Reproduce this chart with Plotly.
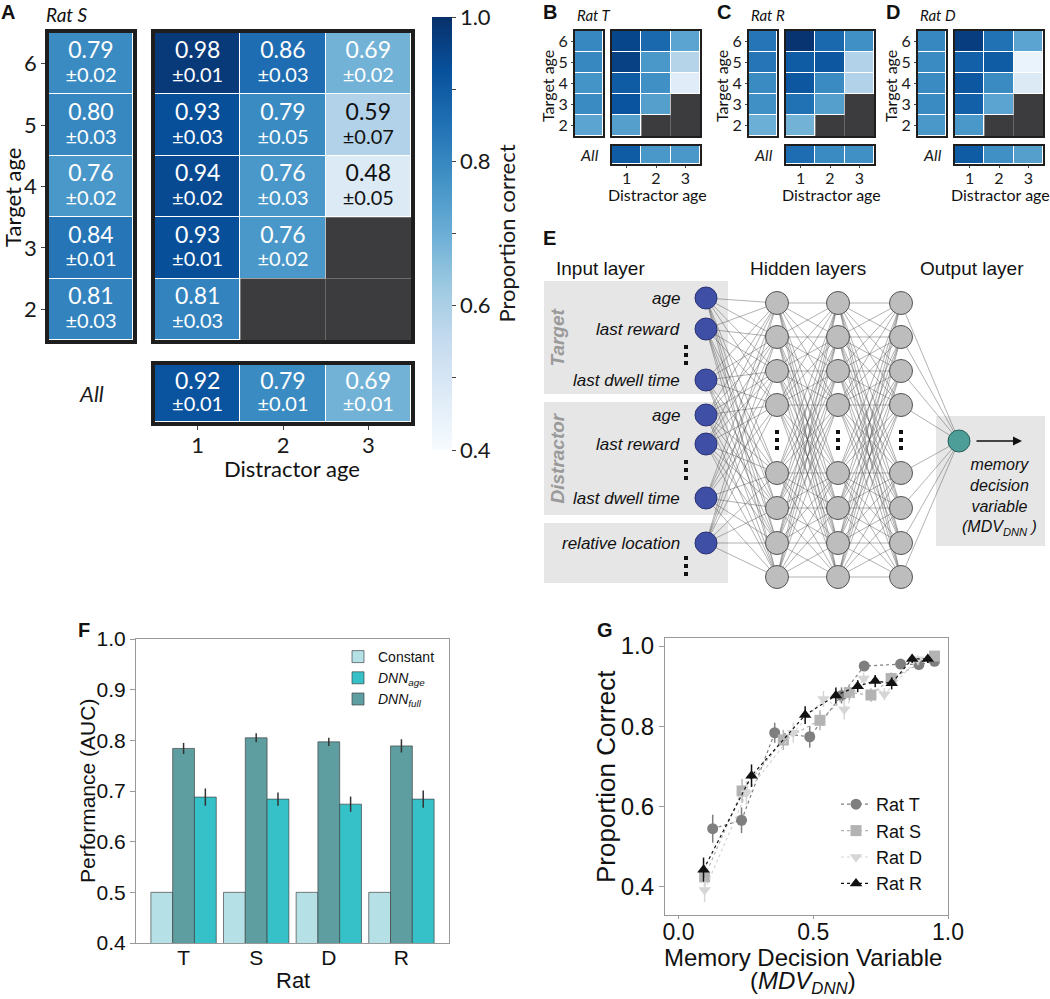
import numpy as np
import plotly.graph_objects as go

W, H = 1050, 999

# ==============================================================================
# -- Data ----------------------------------------------------------------------
# ==============================================================================
target_ages = [6, 5, 4, 3, 2]
distractor_ages = [1, 2, 3]

# Rat S (panel A), with sem
ratS_target = [0.79, 0.80, 0.76, 0.84, 0.81]
ratS_target_sem = [0.02, 0.03, 0.02, 0.01, 0.03]
ratS_grid = [[0.98, 0.86, 0.69],
             [0.93, 0.79, 0.59],
             [0.94, 0.76, 0.48],
             [0.93, 0.76, None],
             [0.81, None, None]]
ratS_grid_sem = [[0.01, 0.03, 0.02],
                 [0.03, 0.05, 0.07],
                 [0.02, 0.03, 0.05],
                 [0.01, 0.02, None],
                 [0.03, None, None]]
ratS_all = [0.92, 0.79, 0.69]
ratS_all_sem = [0.01, 0.01, 0.01]

# Rats T, R, D (panels B-D)
ratT_target = [0.80, 0.80, 0.77, 0.79, 0.73]
ratT_grid = [[0.95, 0.87, 0.73],
             [0.96, 0.76, 0.58],
             [0.90, 0.78, 0.47],
             [0.92, 0.74, None],
             [0.74, None, None]]
ratT_all = [0.90, 0.76, 0.76]

ratR_target = [0.84, 0.84, 0.79, 0.78, 0.70]
ratR_grid = [[0.99, 0.87, 0.78],
             [0.90, 0.91, 0.59],
             [0.91, 0.79, 0.59],
             [0.85, 0.74, None],
             [0.69, None, None]]
ratR_all = [0.86, 0.79, 0.78]

ratD_target = [0.80, 0.79, 0.79, 0.79, 0.76]
ratD_grid = [[0.97, 0.85, 0.73],
             [0.89, 0.90, 0.44],
             [0.91, 0.79, 0.48],
             [0.89, 0.73, None],
             [0.76, None, None]]
ratD_all = [0.90, 0.78, 0.74]

# Panel F
rats = ['T', 'S', 'D', 'R']
auc_constant = [0.5, 0.5, 0.5, 0.5]
auc_full = [0.784, 0.805, 0.797, 0.789]
auc_full_sem = [0.011, 0.009, 0.008, 0.013]
auc_age = [0.688, 0.684, 0.674, 0.684]
auc_age_sem = [0.017, 0.013, 0.015, 0.017]

# Panel G
mdv_T = [0.127, 0.234, 0.357, 0.487, 0.605, 0.689, 0.824, 0.892, 0.950]
pc_T = [0.545, 0.566, 0.784, 0.774, 0.877, 0.950, 0.955, 0.954, 0.962]
err_T = [0.035, 0.032, 0.025, 0.027, 0.020, 0.012, 0.010, 0.010, 0.010]
mdv_S = [0.097, 0.236, 0.389, 0.525, 0.634, 0.714, 0.789, 0.950]
pc_S = [0.425, 0.639, 0.766, 0.815, 0.884, 0.878, 0.919, 0.975]
err_S = [0.030, 0.030, 0.025, 0.025, 0.020, 0.017, 0.015, 0.010]
mdv_D = [0.097, 0.252, 0.426, 0.538, 0.615, 0.687, 0.764, 0.888]
pc_D = [0.392, 0.634, 0.784, 0.868, 0.842, 0.919, 0.880, 0.967]
err_D = [0.030, 0.030, 0.025, 0.020, 0.025, 0.015, 0.015, 0.010]
mdv_R = [0.093, 0.271, 0.470, 0.584, 0.665, 0.730, 0.791, 0.867, 0.925]
pc_R = [0.443, 0.677, 0.828, 0.877, 0.900, 0.913, 0.907, 0.968, 0.968]
err_R = [0.030, 0.028, 0.022, 0.020, 0.015, 0.015, 0.015, 0.010, 0.010]

# Panel E network schematic (diagram units = pixels)
input_labels = ['age', 'last reward', 'last dwell time',
                'age', 'last reward', 'last dwell time', 'relative location']
input_y = [298, 329, 380, 415, 444, 498, 543]
input_dots_y = [355, 470, 566]
hidden_y = [303, 337, 371, 405, 473, 508, 543, 577]
hidden_dots_y = 440
layer_x = [706, 777, 838, 901, 959]
output_y = 441

SANS = 'Lato'
ARIAL = 'Liberation Sans'
INK = '#111111'

fig = go.Figure()
axes = {}
annotations = []
shapes = []


def px_x(a, b):
    return [a / W, b / W]


def px_y(a, b):
    return [1 - b / H, 1 - a / H]


def note(text, x, y, size, family=ARIAL, angle=0, xanchor='center', color=INK):
    # free text placed in figure pixels
    annotations.append(dict(text=text, x=x / W, y=1 - y / H, xref='paper', yref='paper',
                            xanchor=xanchor, yanchor='middle', showarrow=False,
                            textangle=angle, font=dict(family=family, size=size, color=color)))


def make_axes(n, xd, yd, xopt=None, yopt=None):
    xk = 'xaxis' if n == 1 else f'xaxis{n}'
    yk = 'yaxis' if n == 1 else f'yaxis{n}'
    xr = 'x' if n == 1 else f'x{n}'
    yr = 'y' if n == 1 else f'y{n}'
    base = dict(showgrid=False, zeroline=False, showticklabels=False, ticks='',
                automargin=False)
    xa = dict(base, domain=px_x(*xd), anchor=yr)
    xa.update(xopt or {})
    ya = dict(base, domain=px_y(*yd), anchor=xr)
    ya.update(yopt or {})
    axes[xk] = xa
    axes[yk] = ya
    return xr, yr


def cell_text(xs, ys, vals, sems, xr, yr, fs):
    tx, ty, tv, ts, tc = [], [], [], [], []
    for x, y, v, s in zip(xs, ys, vals, sems):
        if v is None:
            continue
        tx.append(x)
        ty.append(y)
        tv.append(f'{v:.2f}')
        ts.append(f'±{s:.2f}')
        tc.append('white' if v >= 0.62 else INK)
    fig.add_trace(go.Scatter(x=tx, y=[y + 0.18 for y in ty], text=tv, mode='text',
                             textfont=dict(family=SANS, size=fs, color=tc),
                             xaxis=xr, yaxis=yr, hoverinfo='skip', showlegend=False))
    fig.add_trace(go.Scatter(x=tx, y=[y - 0.22 for y in ty], text=ts, mode='text',
                             textfont=dict(family=SANS, size=fs - 3, color=tc),
                             xaxis=xr, yaxis=yr, hoverinfo='skip', showlegend=False))


def age_panel(n0, target, grid, overall, geom, fs, lw, tick, sems=None):
    lx, mx, ry, ay = geom
    frame = dict(showline=True, mirror=True, linecolor='#1e1e1e', linewidth=lw)
    font = dict(family=SANS, size=fs, color='#1a1a1a')

    # target-age marginal column
    xr, yr = make_axes(n0, lx, ry, dict(frame, range=[-0.5, 0.5]),
                       dict(frame, range=[1.5, 6.5], tickvals=target_ages,
                            showticklabels=True, ticks='outside', ticklen=tick,
                            tickcolor='#444', tickfont=font))
    fig.add_trace(go.Heatmap(z=[[v] for v in target], x=[0], y=target_ages,
                             coloraxis='coloraxis', xgap=1, ygap=1,
                             xaxis=xr, yaxis=yr, hoverinfo='skip'))
    if sems:
        cell_text([0] * len(target), target_ages, target, sems[0], xr, yr, fs + 1)
    annotations.append(dict(text='<i>All</i>', x=0, xref=xr, y=1 - (ay[0] + ay[1]) / 2 / H,
                            yref='paper', yanchor='middle', showarrow=False, font=font))

    # target x distractor grid
    xr, yr = make_axes(n0 + 1, mx, ry, dict(frame, range=[0.5, 3.5]),
                       dict(frame, range=[1.5, 6.5]))
    z = np.array(grid, dtype=float)
    for i, t in enumerate(target_ages):
        for j, d in enumerate(distractor_ages):
            if np.isnan(z[i, j]):
                shapes.append(dict(type='rect', xref=xr, yref=yr, x0=d - 0.5, x1=d + 0.5,
                                   y0=t - 0.5, y1=t + 0.5, fillcolor='#3c3c3e',
                                   line=dict(width=0), layer='below'))
    fig.add_trace(go.Heatmap(z=z, x=distractor_ages, y=target_ages, coloraxis='coloraxis',
                             xgap=1, ygap=1, xaxis=xr, yaxis=yr, hoverinfo='skip'))
    if sems:
        xs, ys, vs, ss = [], [], [], []
        for i, t in enumerate(target_ages):
            for j, d in enumerate(distractor_ages):
                xs.append(d)
                ys.append(t)
                vs.append(grid[i][j])
                ss.append(sems[1][i][j])
        cell_text(xs, ys, vs, ss, xr, yr, fs + 1)

    # all-target row
    xr, yr = make_axes(n0 + 2, mx, ay,
                       dict(frame, range=[0.5, 3.5], tickvals=distractor_ages,
                            showticklabels=True, ticks='outside', ticklen=tick,
                            ticklabelstandoff=-3,
                            tickcolor='#444', tickfont=font),
                       dict(frame, range=[-0.5, 0.5]))
    fig.add_trace(go.Heatmap(z=[overall], x=distractor_ages, y=[0], coloraxis='coloraxis',
                             xgap=1, ygap=1, xaxis=xr, yaxis=yr, hoverinfo='skip'))
    if sems:
        cell_text(distractor_ages, [0, 0, 0], overall, sems[2], xr, yr, fs + 1)


# ==============================================================================
# -- Panels A-D ----------------------------------------------------------------
# ==============================================================================
age_panel(1, ratS_target, ratS_grid, ratS_all,
          ((49, 133), (155, 411), (33, 340), (365, 422)), 22, 3.5, 4,
          sems=(ratS_target_sem, ratS_grid_sem, ratS_all_sem))
note('<b>A</b>', 8, 12, 20)
note('<i>Rat S</i>', 44, 14, 19, SANS, xanchor='left')
note('Target age', 13, 198, 22, SANS, angle=-90)
note('Distractor age', 292, 468, 22, SANS)

small = [(4, ratT_target, ratT_grid, ratT_all, 'B', 'Rat T', 0),
         (7, ratR_target, ratR_grid, ratR_all, 'C', 'Rat R', 174),
         (10, ratD_target, ratD_grid, ratD_all, 'D', 'Rat D', 343)]
for n0, tg, gr, al, letter, rat, off in small:
    age_panel(n0, tg, gr, al,
              ((575 + off, 603 + off), (612 + off, 700 + off), (31, 136), (146, 164)),
              16, 2, 2)
    note(f'<b>{letter}</b>', 550 + off, 12, 20)
    note(f'<i>{rat}</i>', 575 + off, 15, 15, SANS, xanchor='left')
    note('Target age', 547 + off, 86, 16, SANS, angle=-90)
    note('Distractor age', 657 + off, 195, 16, SANS)

# ==============================================================================
# -- Panel E: network ----------------------------------------------------------
# ==============================================================================
xe, ye = make_axes(13, (544, 1050), (250, 600),
                   dict(range=[544, 1050], visible=False),
                   dict(range=[600, 250], visible=False))
for y0, y1, name in [(281, 394, 'Target'), (402, 515, 'Distractor'), (523, 583, None)]:
    shapes.append(dict(type='rect', xref=xe, yref=ye, x0=544, x1=728, y0=y0, y1=y1,
                       fillcolor='#e6e6e6', line=dict(width=0), layer='below'))
    if name:
        annotations.append(dict(text=f'<b><i>{name}</i></b>', x=557, y=(y0 + y1) / 2,
                                xref=xe, yref=ye, textangle=-90, showarrow=False,
                                font=dict(family=ARIAL, size=19, color='#9a9a9a')))
shapes.append(dict(type='rect', xref=xe, yref=ye, x0=936, x1=1045, y0=416, y1=546,
                   fillcolor='#e6e6e6', line=dict(width=0), layer='below'))

layers = [input_y, hidden_y, hidden_y, hidden_y, [output_y]]
lx_, ly_ = [], []
for a in range(4):
    for y0 in layers[a]:
        for y1 in layers[a + 1]:
            lx_ += [layer_x[a], layer_x[a + 1], None]
            ly_ += [y0, y1, None]
fig.add_trace(go.Scatter(x=lx_, y=ly_, mode='lines', xaxis=xe, yaxis=ye,
                         line=dict(color='rgba(70,70,70,0.7)', width=0.6),
                         hoverinfo='skip', showlegend=False))
fig.add_trace(go.Scatter(x=[layer_x[0]] * len(input_y), y=input_y, mode='markers',
                         xaxis=xe, yaxis=ye, hoverinfo='skip', showlegend=False,
                         marker=dict(size=22, color='#3f4fa6',
                                     line=dict(color='#2b3372', width=1))))
hx, hy = [], []
for lxv in layer_x[1:4]:
    hx += [lxv] * len(hidden_y)
    hy += hidden_y
fig.add_trace(go.Scatter(x=hx, y=hy, mode='markers', xaxis=xe, yaxis=ye,
                         hoverinfo='skip', showlegend=False,
                         marker=dict(size=23, color='#bdbdbd',
                                     line=dict(color='#555555', width=1))))
fig.add_trace(go.Scatter(x=[layer_x[4]], y=[output_y], mode='markers', xaxis=xe, yaxis=ye,
                         hoverinfo='skip', showlegend=False,
                         marker=dict(size=22, color='#4d9d98',
                                     line=dict(color='#2c5e5b', width=1))))
dx, dy = [], []
for cy in input_dots_y:
    dx += [686] * 3
    dy += [cy - 8, cy, cy + 8]
for lxv in layer_x[1:4]:
    dx += [lxv] * 3
    dy += [hidden_dots_y - 8, hidden_dots_y, hidden_dots_y + 8]
fig.add_trace(go.Scatter(x=dx, y=dy, mode='markers', xaxis=xe, yaxis=ye,
                         hoverinfo='skip', showlegend=False,
                         marker=dict(size=4, symbol='square', color=INK)))
for lab, y in zip(input_labels, input_y):
    annotations.append(dict(text=f'<i>{lab}</i>', x=682, y=y, xref=xe, yref=ye,
                            xanchor='right', showarrow=False,
                            font=dict(family=ARIAL, size=17, color=INK)))
for txt, x in [('Input layer', 600), ('Hidden layers', 808), ('Output layer', 972)]:
    annotations.append(dict(text=txt, x=x, y=268, xref=xe, yref=ye, showarrow=False,
                            font=dict(family=ARIAL, size=19, color=INK)))
annotations.append(dict(text='<i>memory<br>decision<br>variable<br>(MDV<sub>DNN</sub> )</i>',
                        x=999, y=497, xref=xe, yref=ye, showarrow=False,
                        font=dict(family=ARIAL, size=16, color=INK)))
annotations.append(dict(text='', x=1022, y=output_y, ax=975, ay=output_y, xref=xe, yref=ye,
                        axref=xe, ayref=ye, showarrow=True, arrowhead=2, arrowsize=1.2,
                        arrowwidth=1.5, arrowcolor=INK))
note('<b>E</b>', 549, 238, 20)

# ==============================================================================
# -- Panel F: AUC bars ---------------------------------------------------------
# ==============================================================================
frame_g = dict(showline=True, mirror=True, linecolor='#999', linewidth=1.2)
xf, yf = make_axes(14, (136, 449), (639, 943),
                   dict(frame_g, type='category', range=[-0.655, 3.655], showticklabels=True,
                        ticklabelstandoff=-4,
                        tickfont=dict(family=ARIAL, size=21, color=INK)),
                   dict(frame_g, range=[0.4, 1.0], tickvals=[0.4, 0.5, 0.6, 0.7, 0.8, 0.9, 1.0],
                        tickformat='.1f', showticklabels=True, ticks='outside', ticklen=5,
                        tickcolor='#999', tickfont=dict(family=ARIAL, size=21, color=INK)))
bar_line = dict(color='rgba(60,60,60,0.65)', width=1)
fig.add_trace(go.Bar(x=rats, y=auc_constant, name='Constant',
                     marker=dict(color='#b4e0e6', line=bar_line),
                     xaxis=xf, yaxis=yf, legendrank=1))
fig.add_trace(go.Bar(x=rats, y=auc_full, name='<i>DNN<sub>full</sub></i>',
                     marker=dict(color='#5f9ea0', line=bar_line), xaxis=xf, yaxis=yf, legendrank=3,
                     error_y=dict(type='data', array=auc_full_sem, color='#333', thickness=1.5, width=0)))
fig.add_trace(go.Bar(x=rats, y=auc_age, name='<i>DNN<sub>age</sub></i>',
                     marker=dict(color='#36c0c8', line=bar_line), xaxis=xf, yaxis=yf, legendrank=2,
                     error_y=dict(type='data', array=auc_age_sem, color='#333', thickness=1.5, width=0)))
note('<b>F</b>', 84, 630, 20)
note('Performance (AUC)', 87, 791, 21, angle=-90)
note('Rat', 293, 980, 22)

# ==============================================================================
# -- Panel G: psychometric -----------------------------------------------------
# ==============================================================================
xg, yg = make_axes(15, (665, 948), (638, 915),
                   dict(frame_g, range=[-0.05, 1.0], tickvals=[0, 0.5, 1.0], tickformat='.1f',
                        showticklabels=True, ticks='outside', ticklen=3, tickcolor='#999',
                        ticklabelstandoff=-7,
                        tickfont=dict(family=ARIAL, size=23, color=INK)),
                   dict(frame_g, range=[0.33, 1.02], tickvals=[0.4, 0.6, 0.8, 1.0],
                        tickformat='.1f', showticklabels=True, ticks='outside', ticklen=5,
                        tickcolor='#999', tickfont=dict(family=ARIAL, size=24, color=INK)))
for name, xs, ys, es, sym, col in [('Rat T', mdv_T, pc_T, err_T, 'circle', '#7f7f7f'),
                                   ('Rat S', mdv_S, pc_S, err_S, 'square', '#b3b3b3'),
                                   ('Rat D', mdv_D, pc_D, err_D, 'triangle-down', '#d6d6d6'),
                                   ('Rat R', mdv_R, pc_R, err_R, 'triangle-up', INK)]:
    fig.add_trace(go.Scatter(x=xs, y=ys, name=name, mode='lines+markers', xaxis=xg, yaxis=yg,
                             legend='legend2',
                             line=dict(color=col, width=1.2, dash='dot'),
                             marker=dict(symbol=sym, size=11, color=col),
                             error_y=dict(type='data', array=es, color=col, thickness=1.5, width=0)))
note('<b>G</b>', 605, 630, 20)
note('Proportion Correct', 606, 777, 26, angle=-90)
note('Memory Decision Variable', 803, 957, 24)
note('(<i>MDV<sub>DNN</sub></i>)', 803, 982, 24)

fig.update_layout(
    width=W, height=H, margin=dict(l=0, r=0, t=0, b=0, autoexpand=False),
    paper_bgcolor='white', plot_bgcolor='white',
    barmode='group', bargap=0.1, bargroupgap=0,
    coloraxis=dict(colorscale='Blues', cmin=0.4, cmax=1.0,
                   colorbar=dict(x=432 / W, xanchor='left', y=1 - 17 / H, yanchor='top',
                                 len=433 / H, lenmode='fraction', thickness=20,
                                 xpad=0, ypad=0, outlinewidth=0, ticks='outside', ticklen=4,
                                 tickcolor='#444',
                                 tickvals=[0.4, 0.5, 0.6, 0.7, 0.8, 0.9, 1.0],
                                 ticktext=['0.4', '', '0.6', '', '0.8', '', '1.0'],
                                 tickfont=dict(family=SANS, size=22, color='#1a1a1a'),
                                 title=dict(text='Proportion correct', side='right',
                                            font=dict(family=SANS, size=22, color='#1a1a1a')))),
    legend=dict(x=338 / W, y=1 - 641 / H, xanchor='left', yanchor='top',
                font=dict(family=ARIAL, size=14, color=INK), bgcolor='rgba(0,0,0,0)',
                tracegroupgap=0),
    legend2=dict(x=836 / W, y=1 - 786 / H, xanchor='left', yanchor='top',
                 font=dict(family=ARIAL, size=18, color=INK), bgcolor='rgba(0,0,0,0)'),
    annotations=annotations, shapes=shapes,
    **axes
)

# the page body has a default 8px margin; drop it so the figure sits at the window origin
fig.write_html('out.html', config={'displayModeBar': False},
               post_script="document.body.style.margin='0';")
